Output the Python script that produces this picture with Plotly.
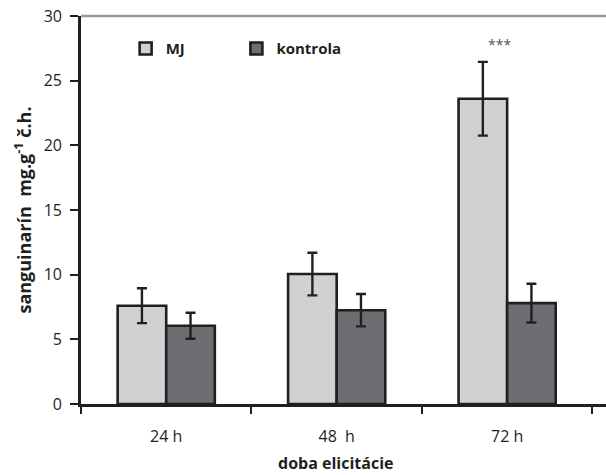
import plotly.graph_objects as go

categories = ["24 h", "48  h", "72 h"]
mj_values = [7.6, 10.05, 23.6]
mj_err = [1.35, 1.65, 2.85]
kontrola_values = [6.05, 7.25, 7.8]
kontrola_err = [1.0, 1.25, 1.5]

ink = "#231f20"
font_family = "Open Sans, Liberation Sans, sans-serif"

fig = go.Figure()
fig.add_trace(go.Bar(
    name="MJ", x=categories, y=mj_values, legend="legend",
    marker=dict(color="#d0d1d3", line=dict(color=ink, width=2.6)),
    error_y=dict(type="data", array=mj_err, color=ink, thickness=2.4, width=5),
))
fig.add_trace(go.Bar(
    name="kontrola", x=categories, y=kontrola_values, legend="legend2",
    marker=dict(color="#6d6e71", line=dict(color=ink, width=2.6)),
    error_y=dict(type="data", array=kontrola_err, color=ink, thickness=2.4, width=5),
))

fig.add_annotation(x=categories[2], y=mj_values[2] + mj_err[2], text="***",
                   showarrow=False, yshift=17, xshift=-8,
                   font=dict(size=14, color="#555", family=font_family))

fig.add_annotation(xref="paper", yref="paper", x=0.484, y=-0.152,
                   xanchor="center", yanchor="middle", showarrow=False,
                   text="<b>doba elicitácie</b>",
                   font=dict(size=16, color=ink, family=font_family))

fig.add_shape(type="line", xref="paper", yref="paper", x0=0, x1=1, y0=1, y1=1,
              line=dict(color="#9a9a9a", width=2.5))

legend_font = dict(size=15, family=font_family, color=ink, weight="bold")

fig.update_layout(
    width=606, height=475,
    margin=dict(l=81, r=0, t=16, b=71),
    paper_bgcolor="white", plot_bgcolor="white",
    barmode="group", bargap=0.43, bargroupgap=0,
    font=dict(family=font_family, color=ink, size=15),
    showlegend=True,
    legend=dict(x=0.085, y=0.958, xanchor="left", yanchor="top",
                font=legend_font, bgcolor="rgba(0,0,0,0)", itemwidth=30),
    legend2=dict(x=0.296, y=0.958, xanchor="left", yanchor="top",
                 font=legend_font, bgcolor="rgba(0,0,0,0)", itemwidth=30),
    xaxis=dict(
        range=[-0.5, 2.58], tickson="boundaries", ticks="outside", ticklen=7,
        tickwidth=2.4, tickcolor=ink, showline=True, linecolor=ink, linewidth=2.6,
        showgrid=False, tickfont=dict(size=16, color=ink), ticklabelstandoff=16,
    ),
    yaxis=dict(
        range=[0, 30], dtick=5, ticks="outside", ticklen=8, tickwidth=2.4,
        tickcolor=ink, showline=True, linecolor=ink, linewidth=2.6,
        showgrid=False, zeroline=False, tickfont=dict(size=16, color=ink),
        ticklabelstandoff=5,
        title=dict(text="sanguinarín  mg.g<sup>-1</sup> č.h.",
                   font=dict(size=18, weight="bold", color=ink), standoff=8),
    ),
)

fig.write_html("out.html", config={"displayModeBar": False},
               post_script="document.body.style.margin='0';document.body.style.overflow='hidden';")
